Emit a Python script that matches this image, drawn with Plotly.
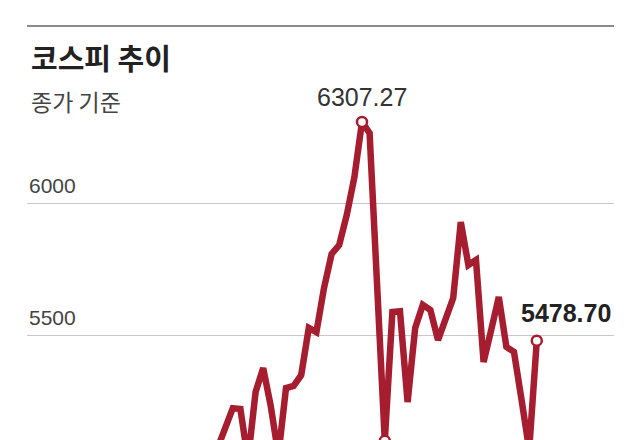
import plotly.graph_objects as go

# ---- data ----
trading_day = list(range(43))
kospi_close = [5072, 5148, 5223, 5220, 5027, 5284, 5375, 5230, 5045, 5299,
               5307, 5348, 5527, 5511, 5678, 5807, 5841, 5955, 6098, 6307.27,
               6265, 5682, 5099, 5587, 5590, 5246, 5527, 5614, 5595, 5481,
               5564, 5640, 5928, 5765, 5784, 5398, 5519, 5644, 5455, 5436,
               5254, 5065, 5478.70]
marked_idx = [19, 22, 42]
tick_vals = [5000, 5500, 6000]
tick_text = ["5000", "5500", "6000"]
title_text = "코스피 추이"
subtitle_text = "종가 기준"

RED = "#a51d2f"
NUM_FONT = "Liberation Sans, Arial, sans-serif"
KR_FONT = "Noto Sans CJK KR, sans-serif"

Y_MIN, Y_MAX = 5102.3, 6670.5
X_MIN, X_MAX = -25.08, 52.16

fig = go.Figure()
fig.add_trace(go.Scatter(
    x=trading_day, y=kospi_close, mode="lines",
    line=dict(color=RED, width=6.5), hoverinfo="skip", showlegend=False))
fig.add_trace(go.Scatter(
    x=[trading_day[i] for i in marked_idx],
    y=[kospi_close[i] for i in marked_idx], mode="markers",
    marker=dict(size=10, color="white", line=dict(color=RED, width=2.5)),
    hoverinfo="skip", showlegend=False))

annotations = []
annotations.append(dict(xref="paper", yref="paper", x=0.003, y=0.9263,
                        xanchor="left", yanchor="middle", text=f"<b>{title_text}</b>",
                        showarrow=False, font=dict(family=KR_FONT, size=29, color="#222")))
annotations.append(dict(xref="paper", yref="paper", x=0.003, y=0.8188,
                        xanchor="left", yanchor="middle", text=subtitle_text,
                        showarrow=False, font=dict(family=KR_FONT, size=23, color="#444")))
for v, t in zip(tick_vals, tick_text):
    annotations.append(dict(xref="paper", yref="paper", x=0.0,
                            y=(v - Y_MIN) / (Y_MAX - Y_MIN),
                            xanchor="left", yanchor="bottom", yshift=4, text=t,
                            showarrow=False, font=dict(family=NUM_FONT, size=21, color="#444")))
peak = marked_idx[0]
annotations.append(dict(x=trading_day[peak], y=kospi_close[peak], xanchor="center",
                        yanchor="bottom", yshift=9, text=f"{kospi_close[peak]:.2f}",
                        showarrow=False, font=dict(family=NUM_FONT, size=25, color="#333")))
last = marked_idx[-1]
annotations.append(dict(x=trading_day[last], y=kospi_close[last], xanchor="center",
                        xshift=29, yanchor="bottom", yshift=12, text=f"<b>{kospi_close[last]:.2f}</b>",
                        showarrow=False, font=dict(family=NUM_FONT, size=25, color="#222")))

fig.update_layout(
    width=640, height=440,
    margin=dict(l=27, r=26, t=26, b=0, pad=0),
    paper_bgcolor="white", plot_bgcolor="white",
    xaxis=dict(range=[X_MIN, X_MAX], visible=False, fixedrange=True),
    yaxis=dict(range=[Y_MIN, Y_MAX], tickvals=tick_vals, showticklabels=False,
               showgrid=True, gridcolor="#c8c8c8", gridwidth=1.2, zeroline=False,
               showline=False, ticks="", fixedrange=True),
    annotations=annotations,
    shapes=[dict(type="line", xref="paper", yref="paper", x0=0, x1=1, y0=1, y1=1,
                 line=dict(color="#8c8c8c", width=2))],
)

fig.write_html("out.html", config={"displayModeBar": False},
               post_script="document.body.style.margin='0';")
